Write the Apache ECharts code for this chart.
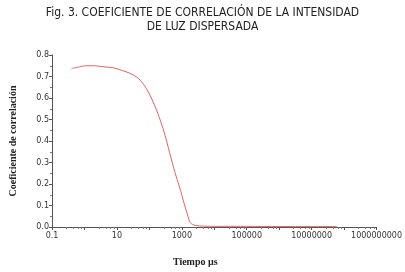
<!DOCTYPE html>
<html>
<head>
<meta charset="utf-8">
<script src="https://cdn.jsdelivr.net/npm/echarts@6/dist/echarts.min.js"></script>
<style>
  html, body { margin: 0; padding: 0; background: #fff; }
  #chart { width: 405px; height: 272px; }
</style>
</head>
<body>
<div id="chart"></div>
<script>
// tiempo (µs) y coeficiente de correlación
var tiempo = [0.4, 0.7, 1.1, 2, 4, 8, 14.5, 25, 47, 80, 115, 170, 230, 300, 375, 470, 560, 720, 915, 1100, 1300, 1550, 1830, 2600, 5000, 10000, 100000, 1000000, 10000000, 60000000];
var correlacion = [0.737, 0.745, 0.75, 0.75, 0.745, 0.74, 0.728, 0.715, 0.69, 0.645, 0.6, 0.54, 0.485, 0.43, 0.375, 0.318, 0.275, 0.22, 0.17, 0.125, 0.088, 0.05, 0.02, 0.007, 0.004, 0.003, 0.003, 0.002, 0.002, 0.002];
var yTicks = ['0.0', '0.1', '0.2', '0.3', '0.4', '0.5', '0.6', '0.7', '0.8'];

var myChart = echarts.init(document.getElementById('chart'));
var puntos = tiempo.map(function (t, i) { return [t, correlacion[i]]; });

var option = {
    animation: false,
    title: {
        text: 'Fig. 3. COEFICIENTE DE CORRELACIÓN DE LA INTENSIDAD\nDE LUZ DISPERSADA',
        left: 'center',
        top: 1,
        textStyle: {
            fontFamily: '"Liberation Sans Narrow", "DejaVu Sans Condensed", sans-serif',
            fontSize: 12,
            fontWeight: 'normal',
            color: '#222',
            lineHeight: 14
        }
    },
    grid: { left: 48, right: 24, top: 55, bottom: 40, containLabel: false },
    xAxis: {
        type: 'log',
        logBase: 10,
        min: 0.1,
        max: 1000000000,
        splitNumber: 10,
        name: 'Tiempo µs',
        nameLocation: 'middle',
        nameGap: 30,
        nameTextStyle: {
            fontFamily: '"Liberation Serif", "DejaVu Serif", serif',
            fontWeight: 'bold', fontSize: 10, color: '#222',
            padding: [0, 38, 0, 0]
        },
        axisLine: { lineStyle: { color: '#555', width: 1 } },
        axisTick: { show: true, length: 3, lineStyle: { color: '#555' } },
        minorTick: { show: true, splitNumber: 5, length: 2, lineStyle: { color: '#777' } },
        splitLine: { show: false },
        axisLabel: {
            fontFamily: '"DejaVu Sans", sans-serif',
            fontSize: 8,
            color: '#333',
            margin: 5,
            showMaxLabel: true,
            hideOverlap: false,
            formatter: function (v) {
                var e = Math.round(Math.log10(v));
                if ((e + 1) % 2 !== 0) return '';
                if (e < 0) return '0.1';
                return '1' + '0'.repeat(e);
            }
        }
    },
    yAxis: {
        type: 'value',
        min: 0,
        max: 0.8,
        interval: 0.1,
        name: 'Coeficiente de correlación',
        nameLocation: 'middle',
        nameGap: 34,
        nameTextStyle: { fontFamily: '"Liberation Serif", "DejaVu Serif", serif', fontWeight: 'bold', fontSize: 10, color: '#222' },
        axisLine: { show: true, lineStyle: { color: '#555', width: 1 } },
        axisTick: { show: true, length: 3, lineStyle: { color: '#555' } },
        minorTick: { show: true, splitNumber: 2, length: 2, lineStyle: { color: '#777' } },
        splitLine: { show: false },
        axisLabel: {
            fontFamily: '"DejaVu Sans", sans-serif',
            fontSize: 8,
            color: '#333',
            margin: 3,
            formatter: function (v) { return yTicks[Math.round(v * 10)]; }
        }
    },
    series: [{
        type: 'line',
        data: puntos,
        smooth: 0.3,
        showSymbol: false,
        lineStyle: { color: '#e8625e', width: 1 }
    }]
};
myChart.setOption(option);
</script>
</body>
</html>
